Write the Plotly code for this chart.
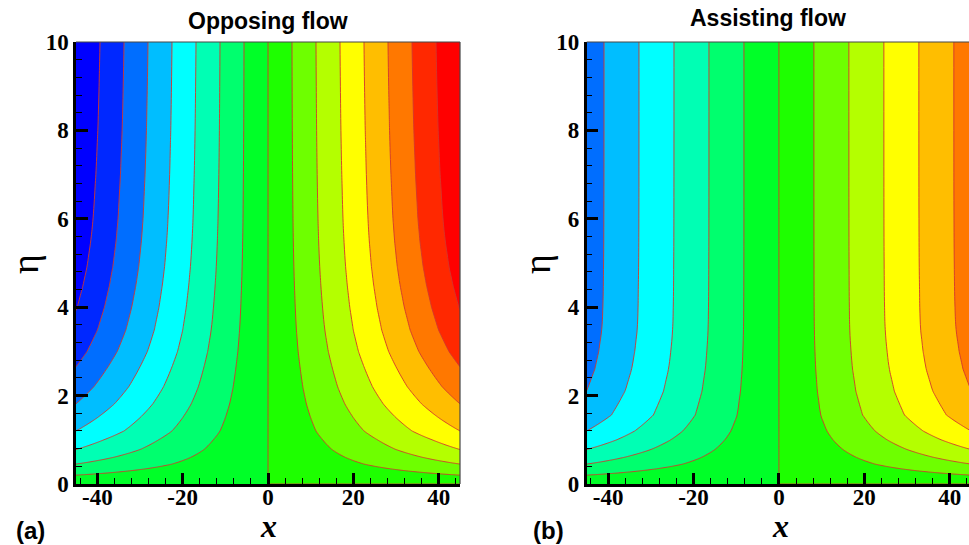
import numpy as np
import plotly.graph_objects as go

# ---------------- data ----------------
x_ticks = [-40, -20, 0, 20, 40]
x_tick_labels = ["-40", "-20", "0", "20", "40"]
eta_ticks = [0, 2, 4, 6, 8, 10]
eta_tick_labels = ["0", "2", "4", "6", "8", "10"]

x_range = [-45, 45]
eta_range = [0, 10]

# field value per unit x along eta (field = x * profile), opposing flow
eta_opposing = [0, 0.1, 0.2, 0.3, 0.45, 0.6, 0.78, 1.0, 1.2, 1.5, 1.81, 2.2,
                2.65, 3.0, 3.48, 4.0, 4.5, 4.92, 5.5, 6.0, 7.0, 8.0, 9.0, 10.0]
profile_opposing = [0, 0.0115, 0.0222, 0.031, 0.0444, 0.055, 0.0667, 0.078,
                    0.0889, 0.100, 0.111, 0.1225, 0.1333, 0.1415, 0.150, 0.1565,
                    0.1615, 0.1650, 0.1685, 0.1707, 0.1735, 0.1755, 0.1768, 0.1778]

# assisting flow
eta_assisting = [0, 0.1, 0.2, 0.3, 0.45, 0.6, 0.78, 1.0, 1.2, 1.56, 2.1, 2.6,
                 3.0, 3.48, 4.0, 5.0, 6.0, 8.0, 10.0]
profile_assisting = [0, 0.0115, 0.0222, 0.031, 0.0444, 0.055, 0.0667, 0.079,
                     0.0889, 0.102, 0.111, 0.116, 0.1185, 0.1205, 0.1213,
                     0.1218, 0.122, 0.1221, 0.1221]

level_start, level_end, level_step = -7, 7, 1

band_colors = [
    "rgb(0,0,255)", "rgb(0,40,255)", "rgb(0,110,255)", "rgb(0,190,255)",
    "rgb(0,255,255)", "rgb(0,255,180)", "rgb(0,255,110)", "rgb(0,255,40)",
    "rgb(30,255,0)", "rgb(110,255,0)", "rgb(180,255,0)", "rgb(255,255,0)",
    "rgb(255,190,0)", "rgb(255,120,0)", "rgb(255,40,0)", "rgb(255,0,0)",
]

panel_titles = ["Opposing flow", "Assisting flow"]
panel_tags = ["(a)", "(b)"]

# ---------------- figure ----------------
W, H = 969, 545
x_grid = np.linspace(x_range[0], x_range[1], 180)
nb = len(band_colors) - 1
colorscale = [[i / nb, c] for i, c in enumerate(band_colors)]


def field(profile):
    return np.outer(np.array(profile), x_grid)


fig = go.Figure()
for k, (eta, prof) in enumerate([(eta_opposing, profile_opposing),
                                  (eta_assisting, profile_assisting)]):
    fig.add_trace(go.Contour(
        x=x_grid, y=eta, z=field(prof),
        xaxis="x" if k == 0 else "x2", yaxis="y" if k == 0 else "y2",
        colorscale=colorscale, showscale=False, autocontour=False,
        contours=dict(start=level_start, end=level_end, size=level_step,
                      coloring="fill"),
        line=dict(color="rgb(210,55,45)", width=0.9, smoothing=1.2),
        hoverinfo="skip",
    ))


def px_x(p):
    return p / W


def px_y(p):
    return 1 - p / H


tickfont = dict(family="Liberation Serif", size=23, color="black", weight="bold")
common_x = dict(showline=True, linewidth=2.5, linecolor="black", ticks="inside",
                ticklen=11, tickwidth=2.5, tickcolor="black", tickvals=x_ticks,
                ticktext=x_tick_labels, tickfont=tickfont, showgrid=False,
                zeroline=False, automargin=False, ticklabelstandoff=-9,
                minor=dict(ticks="inside", ticklen=6, tickwidth=1, dtick=4,
                           tick0=0, tickcolor="black", showgrid=False))
common_y = dict(showline=True, linewidth=2.5, linecolor="black", ticks="inside",
                ticklen=12, tickwidth=2.5, tickcolor="black", tickvals=eta_ticks,
                ticktext=eta_tick_labels, tickfont=tickfont, showgrid=False,
                zeroline=False, range=eta_range, automargin=False,
                domain=[px_y(484), px_y(42)],
                minor=dict(ticks="inside", ticklen=6, tickwidth=1, dtick=0.4,
                           tick0=0, tickcolor="black", showgrid=False))

fig.update_layout(
    width=W, height=H, margin=dict(l=0, r=0, t=0, b=0, autoexpand=False),
    paper_bgcolor="white", plot_bgcolor="white", showlegend=False,
    xaxis=dict(domain=[px_x(76), px_x(460)], range=x_range, anchor="y", **common_x),
    yaxis=dict(anchor="x", **common_y),
    xaxis2=dict(domain=[px_x(586.7), 1.0], range=[x_range[0], 44.5], anchor="y2", **common_x),
    yaxis2=dict(anchor="x2", **common_y),
)

frame = dict(color="rgb(70,70,70)", width=1.2)
fig.add_shape(type="line", xref="x domain", yref="y domain", x0=0, x1=1, y0=1, y1=1, line=frame, layer="above")
fig.add_shape(type="line", xref="x domain", yref="y domain", x0=1, x1=1, y0=0, y1=1, line=frame, layer="above")
fig.add_shape(type="line", xref="x2 domain", yref="y2 domain", x0=0, x1=1, y0=1, y1=1, line=frame, layer="above")

ann = []
title_pos = [(268, 21), (768, 18.5)]
for t, (cx, cy) in zip(panel_titles, title_pos):
    ann.append(dict(text=t, x=px_x(cx), y=px_y(cy), xref="paper", yref="paper",
                    showarrow=False, xanchor="center", yanchor="middle",
                    font=dict(family="Liberation Sans", size=23, color="black", weight="bold")))
for t, cx in zip(panel_tags, [30, 548]):
    ann.append(dict(text=t, x=px_x(cx), y=px_y(530), xref="paper", yref="paper",
                    showarrow=False, xanchor="center", yanchor="middle",
                    font=dict(family="Liberation Sans", size=24, color="black", weight="bold")))
for cx in [268, 780]:
    ann.append(dict(text="<b><i>x</i></b>", x=px_x(cx), y=px_y(526), xref="paper", yref="paper",
                    showarrow=False, xanchor="center", yanchor="middle",
                    font=dict(family="Liberation Serif", size=32, color="black")))
for cx in [25, 537]:
    ann.append(dict(text="η", x=px_x(cx), y=px_y(264), xref="paper", yref="paper",
                    showarrow=False, xanchor="center", yanchor="middle", textangle=-90,
                    font=dict(family="Liberation Serif", size=38, color="black")))
fig.update_layout(annotations=ann)

fig.write_html("out.html")
